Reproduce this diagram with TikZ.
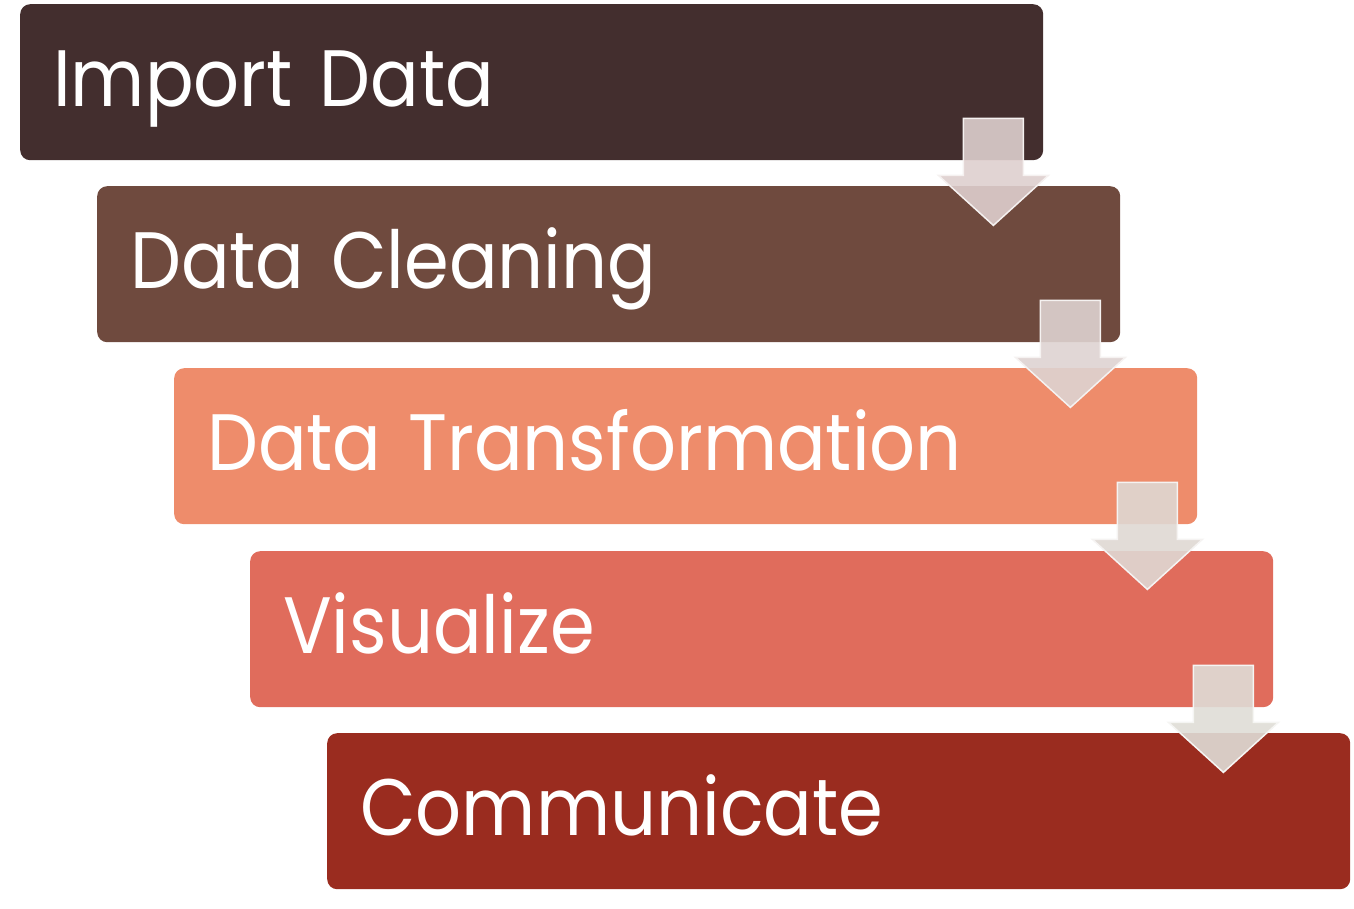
\documentclass[tikz,border=0pt]{standalone}
\usepackage{fontspec}
\setmainfont{Poppins}[FakeStretch=0.9]
\usepackage{tikz}
\usetikzlibrary{positioning}

\definecolor{importcol}{RGB}{67,46,46}
\definecolor{cleancol}{RGB}{111,74,62}
\definecolor{transcol}{RGB}{238,140,107}
\definecolor{viscol}{RGB}{224,108,92}
\definecolor{commcol}{RGB}{154,44,31}
\definecolor{arrA}{RGB}{222,207,206}
\definecolor{arrB}{RGB}{222,211,209}
\definecolor{arrC}{RGB}{223,216,211}
\definecolor{arrD}{RGB}{223,221,214}

\tikzset{
  stage/.style={anchor=north west, rounded corners=10pt, minimum width=1023pt,
    minimum height=156pt, inner xsep=33pt, text width=957pt, align=left,
    text height=60pt, text depth=12pt, text=white,
    font=\fontsize{80}{90}\selectfont},
  flowarrow/.style={fill opacity=0.9, draw=white!70!#1, line width=1.5pt, fill=#1}
}

\begin{document}
\begin{tikzpicture}[x=1pt, y=-1pt]
\useasboundingbox (0,0) rectangle (1354,909);

% stages
\node[stage, fill=importcol] (imp) at (20,4) {Import Data};
\node[stage, fill=cleancol] (cln) at (97,186) {Data Cleaning};
\node[stage, fill=transcol] (trf) at (174,368) {Data Transformation};
\node[stage, fill=viscol] (vis) at (250,551) {Visualize};
\node[stage, fill=commcol] (com) at (327,733) {Communicate};

% import -> cleaning
\begin{scope}[shift={(imp.south east)}]
\draw[flowarrow=arrA] (-80,-42) -- (-20,-42) -- (-20,15) -- (5,15) -- (-50,65)
    -- (-105,15) -- (-80,15) -- cycle;
\end{scope}

% cleaning -> transformation
\begin{scope}[shift={(cln.south east)}]
\draw[flowarrow=arrB] (-80,-42) -- (-20,-42) -- (-20,15) -- (5,15) -- (-50,65)
    -- (-105,15) -- (-80,15) -- cycle;
\end{scope}

% transformation -> visualize
\begin{scope}[shift={(trf.south east)}]
\draw[flowarrow=arrC] (-80,-42) -- (-20,-42) -- (-20,15) -- (5,15) -- (-50,65)
    -- (-105,15) -- (-80,15) -- cycle;
\end{scope}

% visualize -> communicate
\begin{scope}[shift={(vis.south east)}]
\draw[flowarrow=arrD] (-80,-42) -- (-20,-42) -- (-20,15) -- (5,15) -- (-50,65)
    -- (-105,15) -- (-80,15) -- cycle;
\end{scope}

\end{tikzpicture}
\end{document}
